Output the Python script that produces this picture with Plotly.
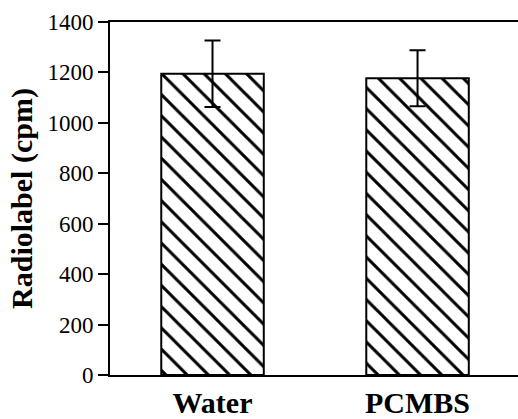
import plotly.graph_objects as go

categories = ["Water", "PCMBS"]
values = [1195, 1177]
errors = [132, 111]
y_ticks = [0, 200, 400, 600, 800, 1000, 1200, 1400]

serif = "Liberation Serif, Times New Roman, serif"

fig = go.Figure()
fig.add_trace(go.Bar(
    x=categories,
    y=values,
    width=0.5,
    marker=dict(
        color="white",
        line=dict(color="black", width=2),
        pattern=dict(shape="\\", fgcolor="black", fgopacity=1, bgcolor="white",
                     fillmode="replace", size=15, solidity=0.2),
    ),
    error_y=dict(type="data", array=errors, visible=True, color="black", thickness=2, width=8),
    showlegend=False,
))

fig.update_layout(
    width=518,
    height=419,
    margin=dict(l=110, r=0, t=22, b=37),
    paper_bgcolor="white",
    plot_bgcolor="white",
    font=dict(family=serif, color="black"),
    xaxis=dict(
        range=[-0.5, 1.49],
        showline=True,
        linecolor="black",
        linewidth=2,
        mirror=True,
        ticks="",
        showgrid=False,
        zeroline=False,
        tickfont=dict(family=serif, size=30, weight="bold", color="black"),
    ),
    yaxis=dict(
        range=[0, 1400],
        tickvals=y_ticks,
        showline=True,
        linecolor="black",
        linewidth=2,
        ticks="outside",
        ticklen=10,
        tickwidth=1.5,
        tickcolor="black",
        showgrid=False,
        zeroline=False,
        tickfont=dict(family=serif, size=23, color="black"),
        title=dict(text="Radiolabel (cpm)", font=dict(family=serif, size=30, weight="bold", color="black"), standoff=6),
    ),
)

fig.write_html("out.html")
